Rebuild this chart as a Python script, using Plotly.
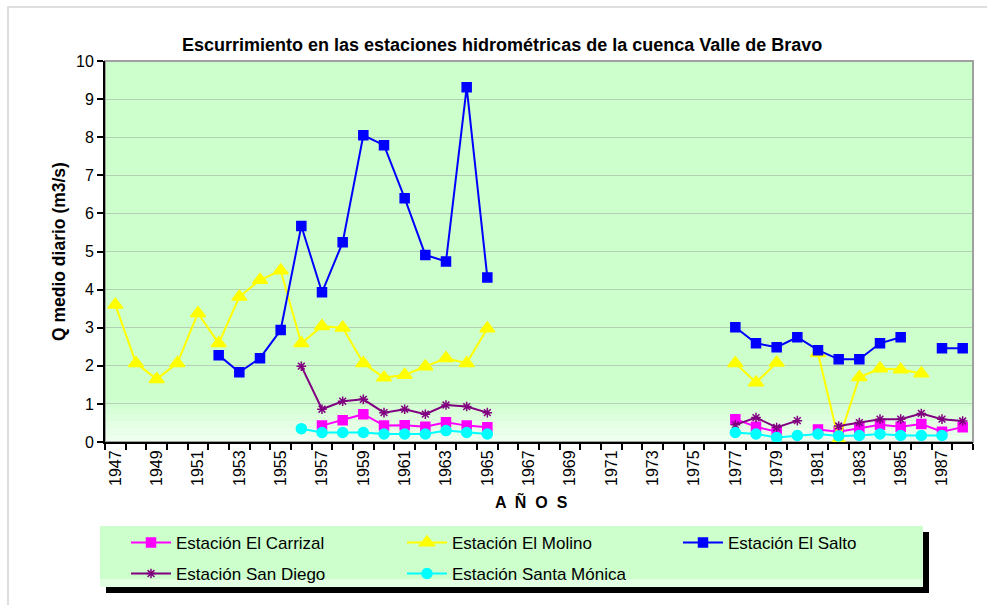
import plotly.graph_objects as go

FONT = "Liberation Sans, Arial, sans-serif"
BG_GREEN = "#CCFFCC"

YEARS = list(range(1947, 1989))
TICK_YEARS = list(range(1947, 1989, 2))

# one value per year 1947..1988, None = no record
N = None
CARRIZAL = [N] * 10 + [0.43, 0.57, 0.73, 0.43, 0.44, 0.40, 0.52, 0.43, 0.39] + [N] * 11 + \
    [0.60, 0.40, 0.27, N, 0.33, 0.27, 0.36, 0.45, 0.40, 0.47, 0.27, 0.39]
MOLINO = [3.60, 2.07, 1.65, 2.07, 3.38, 2.59, 3.81, 4.25, 4.50, 2.59, 3.04, 3.00, 2.07, 1.69,
          1.76, 1.98, 2.20, 2.07, 2.98] + [N] * 11 + \
    [2.07, 1.56, 2.08, N, 2.33, 0.05, 1.70, 1.93, 1.90, 1.80, N, N]
SALTO = [N] * 5 + [2.28, 1.83, 2.20, 2.94, 5.67, 3.93, 5.24, 8.05, 7.79, 6.40, 4.91, 4.74,
                   9.31, 4.32] + [N] * 11 + \
    [3.01, 2.59, 2.49, 2.75, 2.41, 2.17, 2.17, 2.59, 2.75, N, 2.46, 2.46]
SAN_DIEGO = [N] * 9 + [1.99, 0.86, 1.07, 1.12, 0.77, 0.86, 0.73, 0.97, 0.93, 0.77] + [N] * 11 + \
    [0.45, 0.64, 0.38, 0.56, N, 0.42, 0.51, 0.60, 0.60, 0.75, 0.60, 0.55]
SANTA_MONICA = [N] * 9 + [0.35, 0.25, 0.25, 0.25, 0.21, 0.21, 0.21, 0.30, 0.25, 0.21] + [N] * 11 + \
    [0.25, 0.21, 0.12, 0.17, 0.21, 0.16, 0.17, 0.21, 0.17, 0.17, 0.17, N]

SERIES = [
    ("Estación El Carrizal", CARRIZAL, "#FF00FF", "square", 9, "legend"),
    ("Estación El Molino", MOLINO, "#FFFF00", "triangle-up", 13, "legend"),
    ("Estación El Salto", SALTO, "#0000FF", "square", 9, "legend"),
    ("Estación San Diego", SAN_DIEGO, "#800080", "asterisk-open", 8, "legend2"),
    ("Estación Santa Mónica", SANTA_MONICA, "#00FFFF", "circle", 10, "legend2"),
]

W, H = 987, 605
L, R, T, B = 105, 14, 61, 163
PW, PH = W - L - R, H - T - B


def px_x(px):
    return (px - L) / PW


def px_y(py):
    return (H - B - py) / PH


fig = go.Figure()
for name, values, color, symbol, size, legend in SERIES:
    fig.add_trace(go.Scatter(
        x=YEARS,
        y=values,
        name=name,
        mode="lines+markers",
        line=dict(color=color, width=2),
        marker=dict(symbol=symbol, size=size, color=color, line=dict(color=color, width=1.5)),
        cliponaxis=False,
        legend=legend,
    ))

shapes = []
# soft fade at the bottom of the plot area
fade = ["#D2FFD2", "#D8FFD8", "#DEFFDE", "#E4FFE4", "#EAFFEA", "#EFFFEF"]
for i, c in enumerate(fade):
    shapes.append(dict(type="rect", xref="paper", yref="y", x0=0, x1=1,
                       y0=1.1 - (i + 1) * 0.18, y1=1.1 - i * 0.18,
                       fillcolor=c, line=dict(width=0), layer="below"))
# grey frame on top / right of the plot area
shapes.append(dict(type="rect", xref="paper", yref="paper", x0=0, x1=1, y0=0, y1=1,
                   line=dict(color="#A0A0A0", width=2), layer="below"))
# outer chart frame
shapes.append(dict(type="rect", xref="paper", yref="paper",
                   x0=px_x(8), x1=px_x(1000), y0=px_y(620), y1=px_y(7),
                   line=dict(color="#D4D4D4", width=1.5), layer="below"))
# legend box with shadow
shapes.append(dict(type="rect", xref="paper", yref="paper",
                   x0=px_x(106), x1=px_x(929), y0=px_y(593), y1=px_y(532),
                   fillcolor="black", line=dict(width=0), layer="below"))
shapes.append(dict(type="rect", xref="paper", yref="paper",
                   x0=px_x(100), x1=px_x(923), y0=px_y(587), y1=px_y(526),
                   fillcolor=BG_GREEN, line=dict(width=0), layer="below"))
shapes.append(dict(type="rect", xref="paper", yref="paper",
                   x0=px_x(100), x1=px_x(923), y0=px_y(587), y1=px_y(579),
                   fillcolor="#E2FFE2", line=dict(width=0), layer="below"))

legend_common = dict(
    orientation="h",
    xanchor="left",
    yanchor="middle",
    bgcolor="rgba(0,0,0,0)",
    font=dict(family=FONT, size=17, color="black"),
    itemwidth=40,
    entrywidth=221,
    entrywidthmode="pixels",
)

fig.update_layout(
    width=W,
    height=H,
    margin=dict(l=L, r=R, t=T, b=B),
    paper_bgcolor="white",
    plot_bgcolor=BG_GREEN,
    font=dict(family=FONT, size=16, color="black"),
    showlegend=True,
    legend=dict(x=px_x(126), y=px_y(543), **legend_common),
    legend2=dict(x=px_x(126), y=px_y(574), **legend_common),
    shapes=shapes,
    xaxis=dict(
        range=[1946.5, 1988.5],
        tickmode="array",
        tickvals=TICK_YEARS,
        ticktext=[str(y) for y in TICK_YEARS],
        tickangle=-90,
        ticks="",
        showgrid=False,
        zeroline=False,
        showline=True,
        linecolor="black",
        linewidth=2,
        tickfont=dict(size=16),
        minor=dict(tick0=1946.5, dtick=1, ticks="outside", ticklen=6,
                   tickcolor="black", tickwidth=1.5, showgrid=False),
        fixedrange=True,
    ),
    yaxis=dict(
        range=[0, 10],
        dtick=1,
        ticks="outside",
        ticklen=6,
        tickwidth=1.5,
        tickcolor="black",
        showgrid=True,
        gridcolor="rgba(150,150,150,0.45)",
        gridwidth=1,
        zeroline=False,
        showline=True,
        linecolor="black",
        linewidth=2,
        tickfont=dict(size=16),
        fixedrange=True,
    ),
    annotations=[
        dict(text="<b>Escurrimiento en las estaciones hidrométricas de la cuenca Valle de Bravo</b>",
             xref="paper", yref="paper", x=px_x(502), y=px_y(33), showarrow=False,
             font=dict(size=18)),
        dict(text="<b>Q medio diario (m3/s)</b>", textangle=-90,
             xref="paper", yref="paper", x=px_x(47), y=px_y(252), showarrow=False,
             font=dict(size=17.5)),
        dict(text="<b>A  Ñ  O  S</b>",
             xref="paper", yref="paper", x=px_x(531), y=px_y(513), showarrow=False,
             font=dict(size=16)),
    ],
)

# drop the default page margin so the chart sits at the window origin
fig.write_html("out.html", config={"displayModeBar": False},
               post_script="document.body.style.margin='0';")
